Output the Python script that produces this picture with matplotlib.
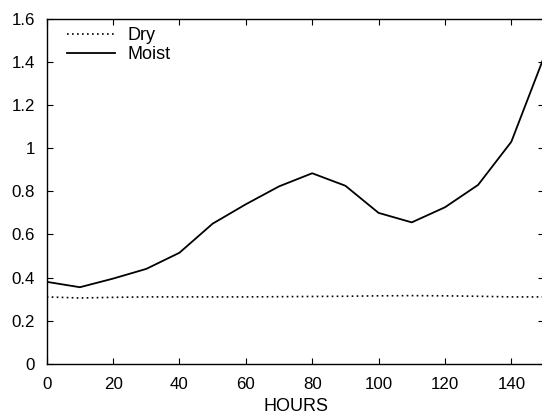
import matplotlib
matplotlib.use("Agg")
import matplotlib.pyplot as plt

plt.rcParams['font.family'] = ['Liberation Sans', 'DejaVu Sans']

hours = [0, 10, 20, 30, 40, 50, 60, 70, 80, 90, 100, 110, 120, 130, 140, 150]
dry = [0.31, 0.305, 0.308, 0.31, 0.31, 0.31, 0.31, 0.311, 0.312, 0.313, 0.315, 0.316, 0.315, 0.313, 0.31, 0.31]
moist = [0.38, 0.355, 0.395, 0.44, 0.515, 0.65, 0.74, 0.823, 0.884, 0.826, 0.70, 0.656, 0.726, 0.83, 1.03, 1.43]
xticks = [0, 20, 40, 60, 80, 100, 120, 140]
yticks = [0, 0.2, 0.4, 0.6, 0.8, 1.0, 1.2, 1.4, 1.6]
ytick_labels = ['0', '0.2', '0.4', '0.6', '0.8', '1', '1.2', '1.4', '1.6']

W, H = 542, 417
left, right, top, bottom = 46.7, 544.5, 19.0, 363.7

fig = plt.figure(figsize=(W / 100, H / 100), dpi=100)
ax = fig.add_axes([left / W, 1 - bottom / H, (right - left) / W, (bottom - top) / H])

ax.plot(hours, dry, color='black', linestyle=(0, (1, 2)), linewidth=1.2, label='Dry')
ax.plot(hours, moist, color='black', linestyle='-', linewidth=1.3, label='Moist')

ax.set_xlim(0, 150)
ax.set_ylim(0, 1.6)
ax.set_xticks(xticks)
ax.set_yticks(yticks)
ax.set_yticklabels(ytick_labels)
ax.tick_params(direction='in', top=True, right=True, length=4, width=0.8,
               labelsize=12.2, colors='black')
ax.tick_params(axis='x', pad=9.5)
ax.tick_params(axis='y', pad=8.5)
for s in ax.spines.values():
    s.set_linewidth(1.0)
ax.set_xlabel('HOURS', fontsize=13, labelpad=4.5)

ax.legend(loc='upper left', frameon=False, fontsize=13, handlelength=2.65,
          handletextpad=0.7, labelspacing=0.12, borderaxespad=0.0, borderpad=0.0,
          bbox_to_anchor=(0.0414, 0.976))

fig.savefig('out.png', dpi=100)
